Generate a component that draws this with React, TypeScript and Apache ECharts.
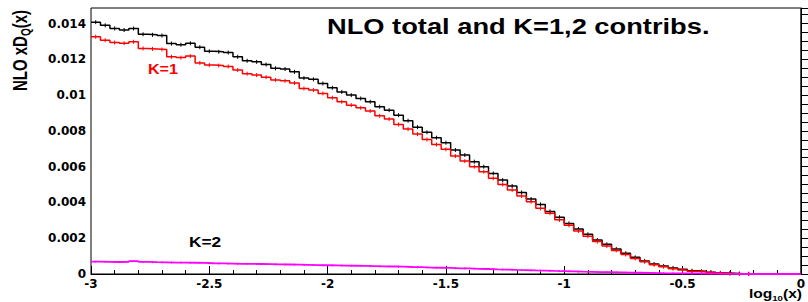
import React, { useEffect, useRef } from "react";
import * as echarts from "echarts";

// histogram binning: 75 bins from -3 to 0
const binLow = -3;
const binWidth = 0.04;

// NLO total
const totalValues = [
  0.01408, 0.0139, 0.01373, 0.01364, 0.01372, 0.0134, 0.01337, 0.01333, 0.01288, 0.01282,
  0.0129, 0.01268, 0.01245, 0.01242, 0.01238, 0.01214, 0.01192, 0.01186, 0.01171, 0.0115,
  0.01146, 0.0113, 0.01095, 0.01088, 0.01065, 0.01041, 0.01018, 0.01, 0.00981, 0.00963,
  0.00935, 0.00916, 0.00888, 0.00857, 0.00821, 0.00792, 0.00762, 0.00734, 0.00693, 0.00665,
  0.00628, 0.006, 0.00562, 0.00525, 0.00492, 0.00456, 0.00419, 0.00389, 0.0035, 0.00317,
  0.00283, 0.00251, 0.00222, 0.0019, 0.00166, 0.0014, 0.00116, 0.00093, 0.00073, 0.00056,
  0.00045, 0.00034, 0.00026, 0.00018, 0.00015, 0.0001, 0.00006, 0.00004, 0.00002, 0.00001,
  0, 0, 0, 0, 0,
];

// K=1 contribution
const k1Values = [
  0.01326, 0.01307, 0.01294, 0.0129, 0.01298, 0.01261, 0.01258, 0.01255, 0.01214, 0.0121,
  0.01218, 0.0118, 0.01168, 0.01165, 0.0116, 0.0114, 0.0112, 0.01112, 0.011, 0.01085,
  0.0108, 0.01068, 0.01037, 0.01028, 0.01009, 0.00985, 0.00963, 0.00944, 0.00929, 0.00911,
  0.00884, 0.00866, 0.00836, 0.0081, 0.00782, 0.00752, 0.00724, 0.00697, 0.00659, 0.00631,
  0.006, 0.00572, 0.00535, 0.00501, 0.00469, 0.00436, 0.00404, 0.00367, 0.0034, 0.00303,
  0.00272, 0.0024, 0.00211, 0.00181, 0.00157, 0.00132, 0.00109, 0.00087, 0.00068, 0.00052,
  0.00041, 0.0003, 0.00023, 0.00016, 0.00013, 0.00009, 0.00005, 0.00003, 0.00002, 0.00001,
  0, 0, 0, 0, 0,
];

// K=2 contribution
const k2Values = [
  0.00069, 0.00068, 0.00067, 0.00068, 0.00072, 0.00068, 0.00066, 0.00065, 0.00064, 0.00064,
  0.00063, 0.00062, 0.0006, 0.00059, 0.00058, 0.00057, 0.00057, 0.00056, 0.00055, 0.00054,
  0.00053, 0.00052, 0.00051, 0.0005, 0.00049, 0.00048, 0.00047, 0.00046, 0.00045, 0.00044,
  0.00043, 0.00042, 0.00041, 0.00039, 0.00038, 0.00036, 0.00035, 0.00034, 0.00032, 0.00031,
  0.00029, 0.00028, 0.00026, 0.00025, 0.00023, 0.00022, 0.0002, 0.00019, 0.00017, 0.00016,
  0.00015, 0.00013, 0.00012, 0.00011, 0.0001, 0.00009, 0.00008, 0.00007, 0.00006, 0.00005,
  0.00004, 0.00004, 0.00003, 0.00003, 0.00002, 0.00002, 0.00001, 0.00001, 0, 0,
  0, 0, 0, 0, 0,
];

const TICK_FONT = '"DejaVu Sans", sans-serif';
const TEXT_FONT = '"Liberation Sans", Arial, sans-serif';

function stepData(vals: number[]) {
  const d = vals.map((v, i) => [binLow + i * binWidth, v]);
  d.push([binLow + vals.length * binWidth, vals[vals.length - 1]]);
  return d;
}

function centerData(vals: number[]) {
  return vals
    .map((v, i) => [binLow + (i + 0.5) * binWidth, v])
    .filter((d) => d[1] > 0);
}

function histSeries(vals: number[], color: string, width: number, z: number, bar: number) {
  return [
    {
      type: "line",
      data: stepData(vals),
      step: "end",
      showSymbol: false,
      symbol: "none",
      lineStyle: { color, width },
      z,
      silent: true,
    },
    {
      type: "custom",
      data: centerData(vals),
      z,
      silent: true,
      renderItem: (params: any, api: any) => {
        const p = api.coord([api.value(0), api.value(1)]);
        return {
          type: "line",
          shape: { x1: p[0], y1: p[1] - bar, x2: p[0], y2: p[1] + bar },
          style: { stroke: color, lineWidth: 1 },
        };
      },
    },
  ];
}

export default function App() {
  const ref = useRef<HTMLDivElement>(null);
  useEffect(() => {
    if (!ref.current) return;
    const chart = echarts.init(ref.current, undefined, { renderer: "svg" });
    chart.setOption({
      animation: false,
      backgroundColor: "#ffffff",
      grid: {
        left: 91,
        top: 8,
        width: 713,
        height: 266,
        show: true,
        borderColor: "#000",
        borderWidth: 1,
        backgroundColor: "transparent",
      },
      xAxis: {
        type: "value",
        min: -3,
        max: 0,
        interval: 0.5,
        axisLine: { show: true, onZero: false, lineStyle: { color: "#000", width: 1 } },
        axisTick: { show: true, inside: true, length: 8, lineStyle: { color: "#000" } },
        minorTick: { show: true, splitNumber: 5, length: 4, lineStyle: { color: "#000" } },
        splitLine: { show: false },
        axisLabel: {
          margin: 4,
          color: "#000",
          fontFamily: TICK_FONT,
          fontWeight: "bold",
          fontSize: 12,
        },
      },
      yAxis: {
        type: "value",
        min: 0,
        max: 0.01487,
        interval: 0.002,
        axisLine: { show: true, lineStyle: { color: "#000", width: 1 } },
        axisTick: { show: true, inside: true, length: 21, lineStyle: { color: "#000" } },
        minorTick: { show: true, splitNumber: 4, length: 11, lineStyle: { color: "#000" } },
        splitLine: { show: false },
        axisLabel: {
          margin: 5,
          color: "#000",
          fontFamily: TICK_FONT,
          fontWeight: "bold",
          fontSize: 12,
          showMaxLabel: false,
          formatter: (v: number) => (v === 0 ? "0" : String(+v.toFixed(3))),
        },
      },
      series: [
        ...histSeries(totalValues, "#000000", 1.5, 2, 2),
        ...histSeries(k1Values, "#ff0000", 1.5, 3, 2),
        ...histSeries(k2Values, "#ff00ff", 1.8, 4, 1),
      ],
      graphic: [
        {
          type: "text",
          x: 327,
          y: 15,
          scaleX: 1.24,
          z: 10,
          style: {
            text: "NLO total and K=1,2 contribs.",
            font: `bold 22px ${TEXT_FONT}`,
            fill: "#000",
            verticalAlign: "top",
          },
        },
        {
          type: "text",
          x: 148,
          y: 62,
          scaleX: 1.15,
          z: 10,
          style: {
            text: "K=1",
            font: `bold 14px ${TEXT_FONT}`,
            fill: "#ff0000",
            verticalAlign: "top",
          },
        },
        {
          type: "text",
          x: 189,
          y: 234,
          scaleX: 1.15,
          z: 10,
          style: {
            text: "K=2",
            font: `bold 15px ${TEXT_FONT}`,
            fill: "#000",
            verticalAlign: "top",
          },
        },
        {
          type: "text",
          x: 8,
          y: 91,
          rotation: Math.PI / 2,
          scaleY: 1.35,
          z: 10,
          style: {
            text: "{a|NLO xD}{s|Q}{a|(x)}",
            verticalAlign: "top",
            align: "left",
            rich: {
              a: { font: `bold 15px ${TEXT_FONT}`, fill: "#000" },
              s: { font: `bold 10px ${TEXT_FONT}`, fill: "#000", padding: [8, 0, 0, 0] },
            },
          },
        },
        {
          type: "text",
          x: 802,
          y: 285,
          scaleX: 1.2,
          z: 10,
          style: {
            text: "{a|log}{s|10}{a|(x)}",
            align: "right",
            verticalAlign: "top",
            rich: {
              a: { font: `bold 13px ${TEXT_FONT}`, fill: "#000" },
              s: { font: `bold 8px ${TEXT_FONT}`, fill: "#000", padding: [9, 0, 0, 0] },
            },
          },
        },
      ],
    });
    return () => chart.dispose();
  }, []);
  return (
    <div
      ref={ref}
      style={{ position: "absolute", left: 0, top: 0, width: 808, height: 302 }}
    />
  );
}
